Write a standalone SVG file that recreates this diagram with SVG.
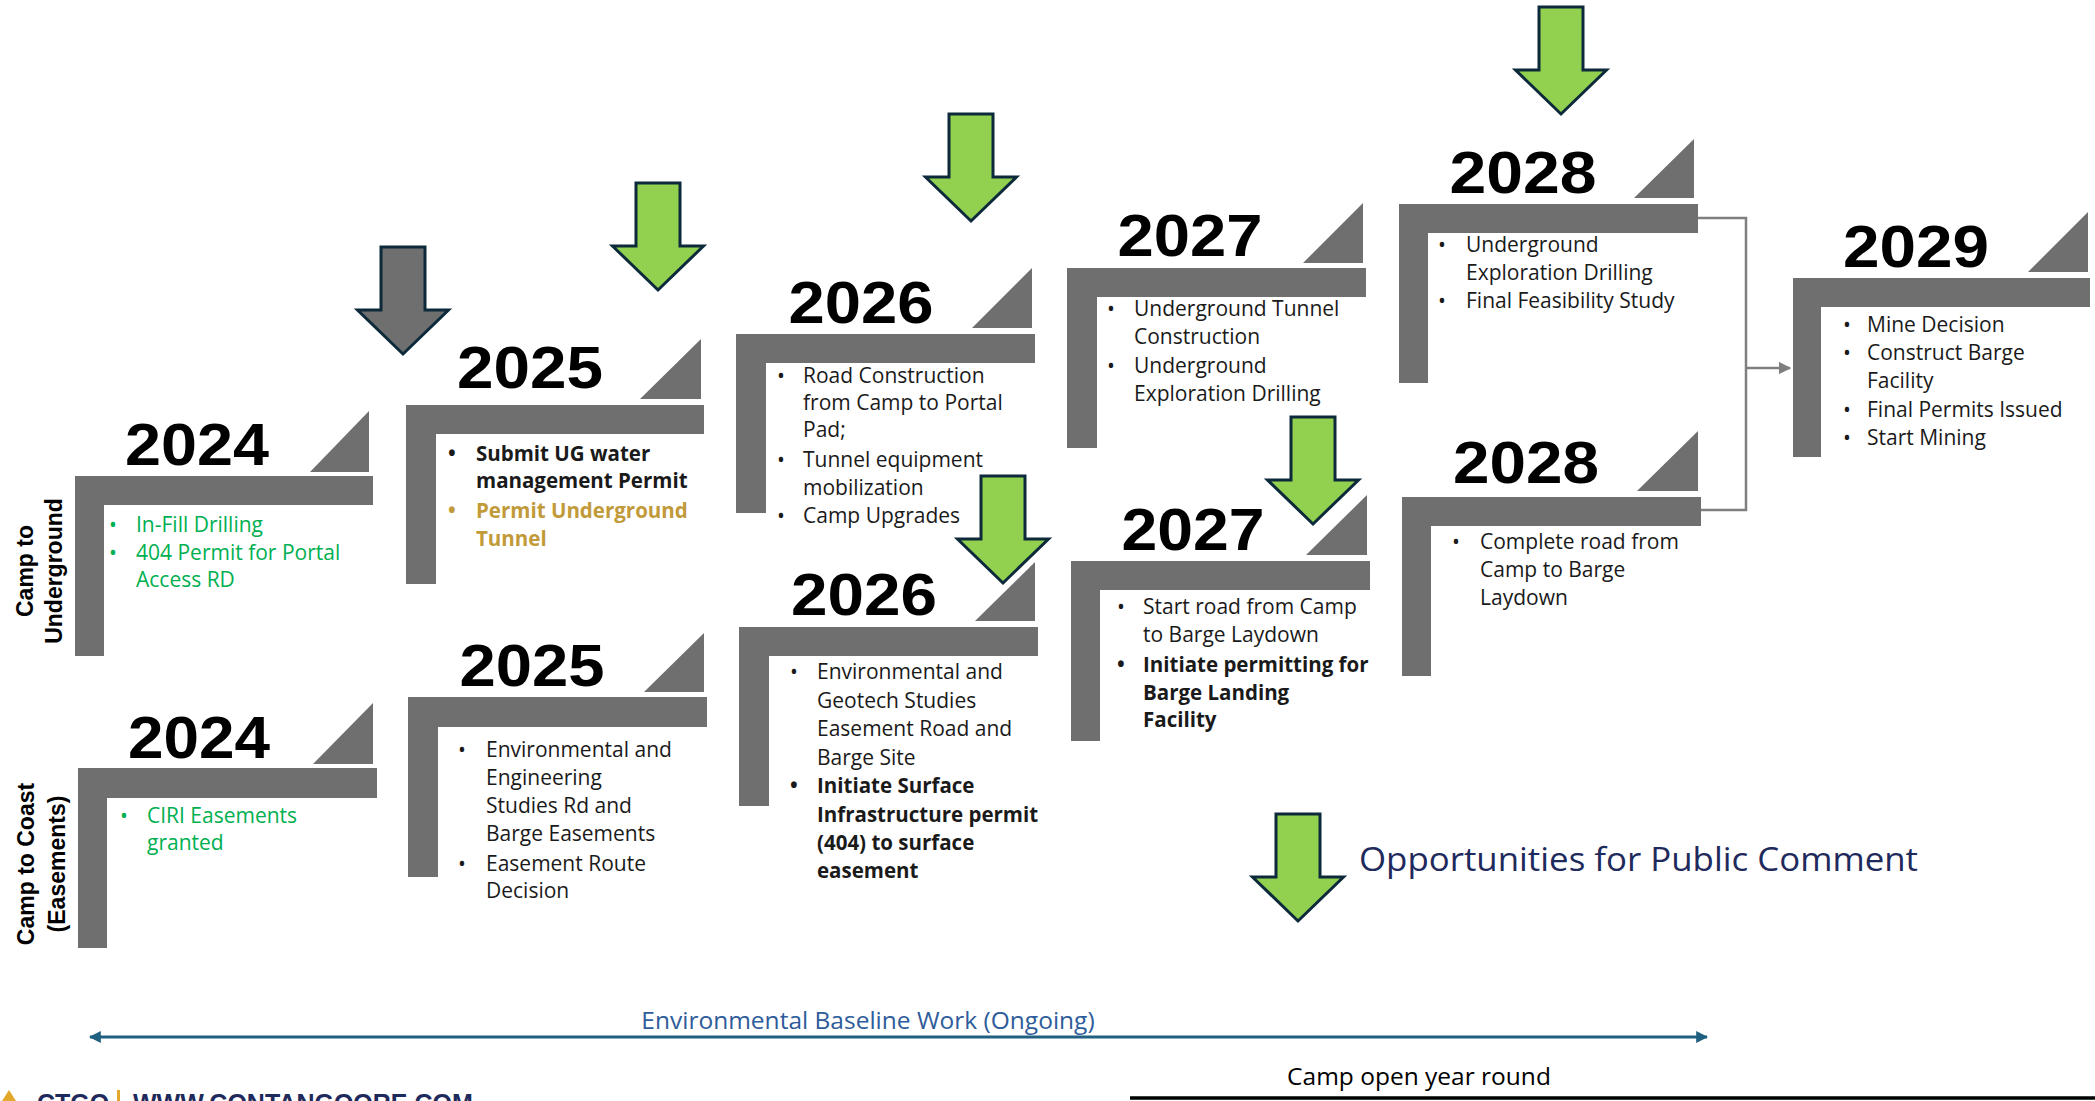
<svg xmlns="http://www.w3.org/2000/svg" width="2095" height="1101" viewBox="0 0 2095 1101">
<style>
.bar{fill:#6f6f6f}
.yr{font-family:"Liberation Sans",Arial,sans-serif;font-weight:bold;font-size:59px;fill:#000;text-anchor:middle}
.t{font-family:"Open Sans","Liberation Sans",sans-serif;font-size:21px;fill:#1a1a1a}
.b{font-weight:bold;font-size:20.5px}
.g{fill:#00b050}
.gold{fill:#c19a3a}
.lbl{font-family:"Liberation Sans",Arial,sans-serif;font-weight:bold;font-size:23px;fill:#000;text-anchor:middle}
.garrow{fill:#92d050;stroke:#0d2a3a;stroke-width:3;stroke-linejoin:miter}
.darrow{fill:#6f6f6f;stroke:#0d2a3a;stroke-width:3;stroke-linejoin:miter}
.conn{fill:none;stroke:#7f7f7f;stroke-width:2.5}
</style>
<defs>
<path id="dn" d="M -22 0 H 22 V 63 H 45.5 L 0 107 L -45.5 63 H -22 Z"/>
<marker id="ah" viewBox="0 0 10 10" refX="9" refY="5" markerWidth="5" markerHeight="5" orient="auto"><path d="M0 0 L10 5 L0 10 Z" fill="#7f7f7f"/></marker>
<marker id="bh" viewBox="0 0 10 10" refX="9" refY="5" markerWidth="4" markerHeight="5" orient="auto-start-reverse"><path d="M0 0 L10 5 L0 10 Z" fill="#1f5f80"/></marker>
</defs>

<g id="n2024a">
<path class="bar" d="M75 476 H373 V505 H104 V656 H75 Z"/>
<polygon class="bar" points="310,472 369,472 369,411"/>
<text class="yr" x="197" y="465" textLength="144" lengthAdjust="spacingAndGlyphs">2024</text>
<text class="t g" x="109" y="532">•</text><text class="t g" x="136" y="532">In-Fill Drilling</text>
<text class="t g" x="109" y="560">•</text><text class="t g" x="136" y="560">404 Permit for Portal</text>
<text class="t g" x="136" y="587">Access RD</text>
</g>

<g id="n2024b">
<path class="bar" d="M78 768 H377 V798 H107 V948 H78 Z"/>
<polygon class="bar" points="313,764 373,764 373,703"/>
<text class="yr" x="199" y="758" textLength="142" lengthAdjust="spacingAndGlyphs">2024</text>
<text class="t g" x="120" y="823">•</text><text class="t g" x="147" y="823">CIRI Easements</text>
<text class="t g" x="147" y="850">granted</text>
</g>

<g id="lbl-underground">
<text class="lbl" transform="translate(33,571) rotate(-90)">Camp to</text>
<text class="lbl" transform="translate(62,571) rotate(-90)">Underground</text>
</g>
<g id="lbl-coast">
<text class="lbl" transform="translate(34,864) rotate(-90)">Camp to Coast</text>
<text class="lbl" transform="translate(65,864) rotate(-90)">(Easements)</text>
</g>

<g id="n2025a">
<path class="bar" d="M406 405 H704 V434 H436 V584 H406 Z"/>
<polygon class="bar" points="640,399 701,399 701,339"/>
<text class="yr" x="530" y="388" textLength="146" lengthAdjust="spacingAndGlyphs">2025</text>
<text class="t b" x="448" y="461">•</text><text class="t b" x="476" y="461">Submit UG water</text>
<text class="t b" x="476" y="488">management Permit</text>
<text class="t b gold" x="448" y="518">•</text><text class="t b gold" x="476" y="518">Permit Underground</text>
<text class="t b gold" x="476" y="546">Tunnel</text>
</g>

<g id="n2025b">
<path class="bar" d="M408 697 H707 V727 H438 V877 H408 Z"/>
<polygon class="bar" points="644,692 704,692 704,633"/>
<text class="yr" x="532" y="686" textLength="145" lengthAdjust="spacingAndGlyphs">2025</text>
<text class="t" x="458" y="757">•</text><text class="t" x="486" y="757">Environmental and</text>
<text class="t" x="486" y="785">Engineering</text>
<text class="t" x="486" y="813">Studies Rd and</text>
<text class="t" x="486" y="841">Barge Easements</text>
<text class="t" x="458" y="871">•</text><text class="t" x="486" y="871">Easement Route</text>
<text class="t" x="486" y="898">Decision</text>
</g>

<g id="n2026a">
<path class="bar" d="M736 334 H1035 V363 H766 V513 H736 Z"/>
<polygon class="bar" points="972,328 1032,328 1032,268"/>
<text class="yr" x="861" y="323" textLength="145" lengthAdjust="spacingAndGlyphs">2026</text>
<text class="t" x="777" y="383">•</text><text class="t" x="803" y="383">Road Construction</text>
<text class="t" x="803" y="410">from Camp to Portal</text>
<text class="t" x="803" y="437">Pad;</text>
<text class="t" x="777" y="467">•</text><text class="t" x="803" y="467">Tunnel equipment</text>
<text class="t" x="803" y="495">mobilization</text>
<text class="t" x="777" y="523">•</text><text class="t" x="803" y="523">Camp Upgrades</text>
</g>

<g id="n2026b">
<path class="bar" d="M739 627 H1038 V656 H769 V806 H739 Z"/>
<polygon class="bar" points="975,621 1035,621 1035,562"/>
<text class="yr" x="864" y="615" textLength="146" lengthAdjust="spacingAndGlyphs">2026</text>
<text class="t" x="790" y="679">•</text><text class="t" x="817" y="679">Environmental and</text>
<text class="t" x="817" y="708">Geotech Studies</text>
<text class="t" x="817" y="736">Easement Road and</text>
<text class="t" x="817" y="765">Barge Site</text>
<text class="t b" x="790" y="793">•</text><text class="t b" x="817" y="793">Initiate Surface</text>
<text class="t b" x="817" y="822">Infrastructure permit</text>
<text class="t b" x="817" y="850">(404) to surface</text>
<text class="t b" x="817" y="878">easement</text>
</g>

<g id="n2027a">
<path class="bar" d="M1067 268 H1366 V297 H1097 V448 H1067 Z"/>
<polygon class="bar" points="1303,263 1363,263 1363,203"/>
<text class="yr" x="1190" y="256" textLength="145" lengthAdjust="spacingAndGlyphs">2027</text>
<text class="t" x="1107" y="316">•</text><text class="t" x="1134" y="316">Underground Tunnel</text>
<text class="t" x="1134" y="344">Construction</text>
<text class="t" x="1107" y="373">•</text><text class="t" x="1134" y="373">Underground</text>
<text class="t" x="1134" y="401">Exploration Drilling</text>
</g>

<g id="n2027b">
<path class="bar" d="M1071 561 H1370 V590 H1100 V741 H1071 Z"/>
<polygon class="bar" points="1306,555 1367,555 1367,495"/>
<text class="yr" x="1193" y="550" textLength="143" lengthAdjust="spacingAndGlyphs">2027</text>
<text class="t" x="1117" y="614">•</text><text class="t" x="1143" y="614">Start road from Camp</text>
<text class="t" x="1143" y="642">to Barge Laydown</text>
<text class="t b" x="1117" y="672">•</text><text class="t b" x="1143" y="672">Initiate permitting for</text>
<text class="t b" x="1143" y="700">Barge Landing</text>
<text class="t b" x="1143" y="727">Facility</text>
</g>

<g id="n2028a">
<path class="bar" d="M1399 204 H1698 V233 H1428 V383 H1399 Z"/>
<polygon class="bar" points="1634,198 1694,198 1694,139"/>
<text class="yr" x="1523" y="193" textLength="147" lengthAdjust="spacingAndGlyphs">2028</text>
<text class="t" x="1438" y="252">•</text><text class="t" x="1466" y="252">Underground</text>
<text class="t" x="1466" y="280">Exploration Drilling</text>
<text class="t" x="1438" y="308">•</text><text class="t" x="1466" y="308">Final Feasibility Study</text>
</g>

<g id="n2028b">
<path class="bar" d="M1402 497 H1701 V526 H1431 V676 H1402 Z"/>
<polygon class="bar" points="1637,491 1698,491 1698,431"/>
<text class="yr" x="1526" y="483" textLength="146" lengthAdjust="spacingAndGlyphs">2028</text>
<text class="t" x="1452" y="549">•</text><text class="t" x="1480" y="549">Complete road from</text>
<text class="t" x="1480" y="577">Camp to Barge</text>
<text class="t" x="1480" y="605">Laydown</text>
</g>

<g id="n2029">
<path class="bar" d="M1793 278 H2090 V307 H1821 V457 H1793 Z"/>
<polygon class="bar" points="2028,272 2088,272 2088,212"/>
<text class="yr" x="1916" y="267" textLength="146" lengthAdjust="spacingAndGlyphs">2029</text>
<text class="t" x="1843" y="332">•</text><text class="t" x="1867" y="332">Mine Decision</text>
<text class="t" x="1843" y="360">•</text><text class="t" x="1867" y="360">Construct Barge</text>
<text class="t" x="1867" y="388">Facility</text>
<text class="t" x="1843" y="417">•</text><text class="t" x="1867" y="417">Final Permits Issued</text>
<text class="t" x="1843" y="445">•</text><text class="t" x="1867" y="445">Start Mining</text>
</g>

<g id="connectors">
<path class="conn" d="M1698 218 H1746 V510 H1701"/>
<path class="conn" d="M1746 368 H1790" marker-end="url(#ah)"/>
<line x1="90" y1="1037" x2="1707" y2="1037" stroke="#1f5f80" stroke-width="3" marker-start="url(#bh)" marker-end="url(#bh)"/>
</g>

<g id="milestone-arrows">
<use href="#dn" class="darrow" transform="translate(403,247)"/>
<use href="#dn" class="garrow" transform="translate(658,183)"/>
<use href="#dn" class="garrow" transform="translate(971,114)"/>
<use href="#dn" class="garrow" transform="translate(1003,476)"/>
<use href="#dn" class="garrow" transform="translate(1313,417)"/>
<use href="#dn" class="garrow" transform="translate(1561,7)"/>
</g>

<g id="legend">
<use href="#dn" class="garrow" transform="translate(1298,814)"/>
<text x="1359" y="871" font-family="'Open Sans','Liberation Sans',sans-serif" font-size="33" fill="#1f2a5c" textLength="559" lengthAdjust="spacingAndGlyphs">Opportunities for Public Comment</text>
</g>

<g id="timeline">
<text x="868" y="1029" font-family="'Open Sans','Liberation Sans',sans-serif" font-size="24.5" fill="#2e5c9a" text-anchor="middle">Environmental Baseline Work (Ongoing)</text>
<text x="1419" y="1085" font-family="'Open Sans','Liberation Sans',sans-serif" font-size="24.5" fill="#000" text-anchor="middle">Camp open year round</text>
<line x1="1130" y1="1098" x2="2095" y2="1098" stroke="#000" stroke-width="3.5"/>
</g>

<g id="footer">
<polygon points="2,1101 9,1090 16,1101" fill="#e3a82b"/>
<text x="37" y="1112" font-family="'Liberation Sans',Arial,sans-serif" font-weight="bold" font-size="25" fill="#1f2a5c">CTGO</text>
<rect x="117" y="1090" width="3" height="12" fill="#e3a82b"/>
<text x="133" y="1112" font-family="'Liberation Sans',Arial,sans-serif" font-weight="bold" font-size="25" fill="#1f2a5c">WWW.CONTANGOORE.COM</text>
</g>
</svg>
